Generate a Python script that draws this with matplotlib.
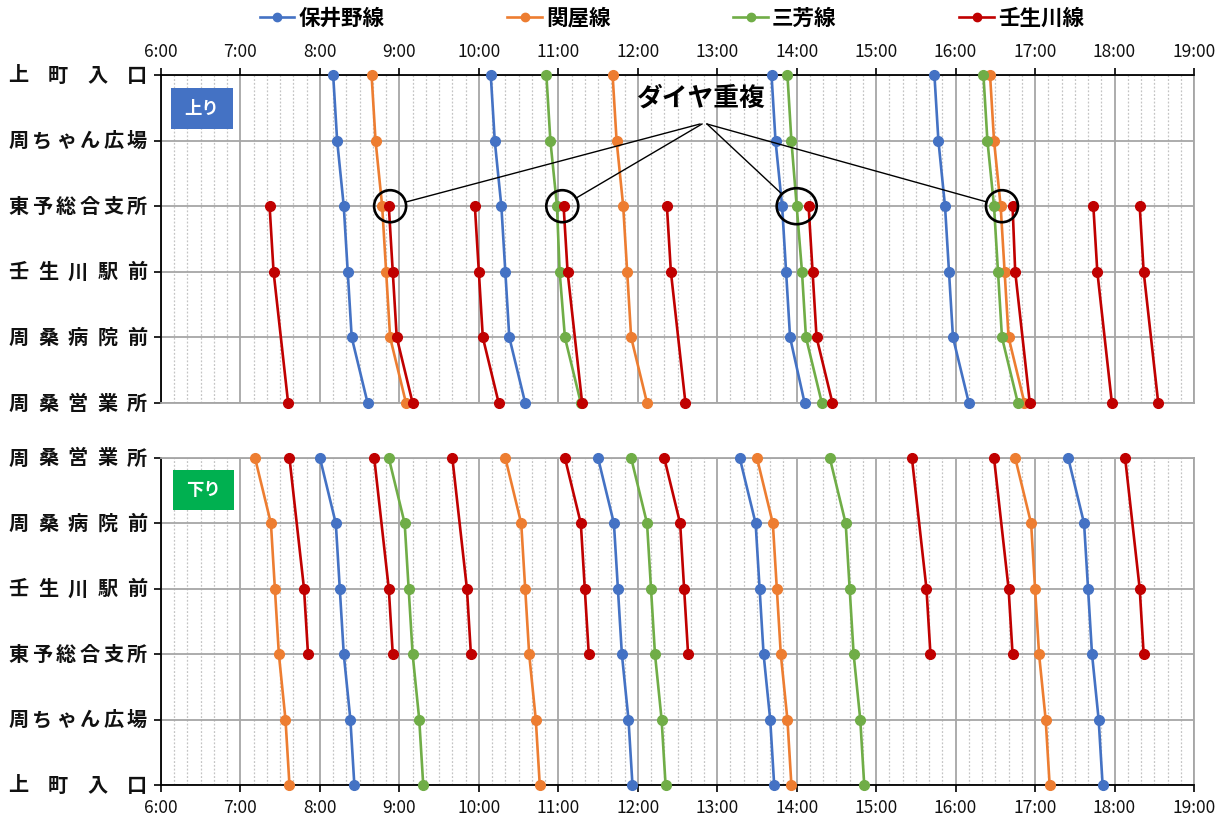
import matplotlib
matplotlib.use("Agg")
import matplotlib.pyplot as plt
import numpy as np
from matplotlib.patches import Ellipse, Rectangle
from matplotlib.lines import Line2D
import matplotlib.transforms as mtransforms

plt.rcParams['font.family'] = ['Noto Sans CJK JP', 'DejaVu Sans']

# ---------------- data ----------------
stations_up = ["上町入口", "周ちゃん広場", "東予総合支所", "壬生川駅前", "周桑病院前", "周桑営業所"]
stations_down = ["周桑営業所", "周桑病院前", "壬生川駅前", "東予総合支所", "周ちゃん広場", "上町入口"]

line_names = ["保井野線", "関屋線", "三芳線", "壬生川線"]
line_colors = ["#4472C4", "#ED7D31", "#70AD47", "#C00000"]

x_hours = list(range(6, 20))
x_tick_labels = [f"{h}:00" for h in x_hours]

# 上り (order: 上町入口 → 周桑営業所)
up_hoino = [
    ["8:10", "8:13", "8:18", "8:21", "8:24", "8:36"],
    ["10:09", "10:12", "10:17", "10:20", "10:23", "10:35"],
    ["13:41", "13:44", "13:49", "13:52", "13:55", "14:06"],
    ["15:44", "15:47", "15:52", "15:55", "15:58", "16:10"],
]
up_sekiya = [
    ["8:39", "8:42", "8:47", "8:50", "8:53", "9:05"],
    ["11:41", "11:44", "11:49", "11:52", "11:55", "12:07"],
    ["16:26", "16:29", "16:34", "16:37", "16:40", "16:52"],
]
up_miyoshi = [
    ["10:51", "10:54", "10:59", "11:01", "11:05", "11:17"],
    ["13:53", "13:56", "14:00", "14:04", "14:07", "14:19"],
    ["16:21", "16:24", "16:29", "16:32", "16:35", "16:47"],
]
up_nyugawa = [
    [None, None, "7:22", "7:25", None, "7:36"],
    [None, None, "8:52", "8:55", "8:58", "9:10"],
    [None, None, "9:57", "10:00", "10:03", "10:15"],
    [None, None, "11:04", "11:07", None, "11:18"],
    [None, None, "12:22", "12:25", None, "12:36"],
    [None, None, "14:09", "14:12", "14:15", "14:27"],
    [None, None, "16:43", "16:45", None, "16:56"],
    [None, None, "17:44", "17:47", None, "17:58"],
    [None, None, "18:19", "18:22", None, "18:33"],
]

# 下り (order: 周桑営業所 → 上町入口)
down_hoino = [
    ["8:00", "8:12", "8:15", "8:18", "8:23", "8:26"],
    ["11:30", "11:42", "11:45", "11:48", "11:53", "11:56"],
    ["13:17", "13:29", "13:32", "13:35", "13:40", "13:43"],
    ["17:25", "17:37", "17:40", "17:43", "17:48", "17:51"],
]
down_sekiya = [
    ["7:11", "7:23", "7:26", "7:29", "7:34", "7:37"],
    ["10:20", "10:32", "10:35", "10:38", "10:43", "10:46"],
    ["13:30", "13:42", "13:45", "13:48", "13:53", "13:56"],
    ["16:45", "16:57", "17:00", "17:03", "17:08", "17:11"],
]
down_miyoshi = [
    ["8:52", "9:04", "9:07", "9:10", "9:15", "9:18"],
    ["11:55", "12:07", "12:10", "12:13", "12:18", "12:21"],
    ["14:25", "14:37", "14:40", "14:43", "14:48", "14:51"],
]
down_nyugawa = [
    ["7:37", None, "7:48", "7:51", None, None],
    ["8:41", None, "8:52", "8:55", None, None],
    ["9:40", None, "9:51", "9:54", None, None],
    ["11:05", "11:17", "11:20", "11:23", None, None],
    ["12:20", "12:32", "12:35", "12:38", None, None],
    ["15:27", None, "15:38", "15:41", None, None],
    ["16:29", None, "16:40", "16:43", None, None],
    ["18:08", None, "18:19", "18:22", None, None],
]

# ダイヤ重複 annotation (circle centres at 東予総合支所, times)
overlap_times = ["8:53", "11:03", "14:00", "16:35"]
overlap_station = "東予総合支所"
annot_text = "ダイヤ重複"

# ---------------- helpers ----------------
def t2h(s):
    h, m = s.split(":")
    return int(h) + int(m) / 60.0

W, H = 1228, 817
fig = plt.figure(figsize=(W / 100, H / 100), dpi=100)

def fx(px):
    return px / W

def fy(py):
    return 1 - py / H

ax_up = fig.add_axes([fx(161), fy(403), fx(1194) - fx(161), fy(75) - fy(403)])
ax_dn = fig.add_axes([fx(161), fy(785), fx(1194) - fx(161), fy(458) - fy(785)])

grid_major = "#A6A6A6"
grid_minor = "#C4C4C4"

def style_axes(ax, top_axis):
    ax.set_xlim(6, 19)
    ax.set_ylim(5, 0)
    ax.set_xticks(x_hours)
    ax.set_xticklabels(x_tick_labels, fontsize=12.5, color="#111111")
    ax.set_xticks(np.arange(6, 19, 1 / 6), minor=True)
    ax.set_yticks(range(6))
    ax.set_yticklabels([])
    ax.grid(which="major", axis="x", color=grid_major, lw=1.3, zorder=0)
    ax.grid(which="minor", axis="x", color=grid_minor, lw=0.9, ls=(0, (1.5, 1.5)), zorder=0)
    ax.grid(which="major", axis="y", color=grid_major, lw=1.3, zorder=0)
    ax.set_axisbelow(True)
    ax.tick_params(axis="x", which="minor", length=0)
    ax.tick_params(axis="y", which="major", length=5, width=1.2, direction="out", color="black")
    if top_axis:
        ax.xaxis.tick_top()
        ax.tick_params(axis="x", which="major", length=5, width=1.2, pad=5, color="black")
        ax.spines["top"].set_color("black")
        ax.spines["bottom"].set_color(grid_major)
    else:
        ax.xaxis.tick_bottom()
        ax.tick_params(axis="x", which="major", length=5, width=1.2, pad=5, color="black")
        ax.spines["bottom"].set_color("black")
        ax.spines["top"].set_color(grid_major)
    ax.spines["left"].set_color("black")
    ax.spines["right"].set_color(grid_major)
    for s in ax.spines.values():
        s.set_linewidth(1.3)

style_axes(ax_up, True)
style_axes(ax_dn, False)

def plot_trips(ax, trips, color):
    for trip in trips:
        idx = [i for i, v in enumerate(trip) if v is not None]
        xs = [t2h(trip[i]) for i in idx]
        ax.plot(xs, idx, color=color, lw=1.9, marker="o", ms=7, zorder=3, clip_on=False)

up_sets = [up_hoino, up_sekiya, up_miyoshi, up_nyugawa]
down_sets = [down_hoino, down_sekiya, down_miyoshi, down_nyugawa]
for trips, c in zip(up_sets, line_colors):
    plot_trips(ax_up, trips, c)
for trips, c in zip(down_sets, line_colors):
    plot_trips(ax_dn, trips, c)

# station labels (distributed across fixed width)
def station_labels(ax, stations):
    tr = mtransforms.blended_transform_factory(fig.transFigure, ax.transData)
    for yi, name in enumerate(stations):
        chars = list(name)
        xs = np.linspace(18.5, 137, len(chars))
        for ch, xp in zip(chars, xs):
            fig.text(fx(xp), yi, ch, transform=tr, ha="center", va="center",
                     fontsize=14.5, fontweight="bold", color="#111111")

station_labels(ax_up, stations_up)
station_labels(ax_dn, stations_down)

# direction badges
def badge(ax, x0, x1, y0, y1, color, text):
    ax.add_patch(Rectangle((x0, y0), x1 - x0, y1 - y0, transform=ax.transAxes,
                           facecolor=color, edgecolor="none", zorder=5))
    ax.text((x0 + x1) / 2, (y0 + y1) / 2, text, transform=ax.transAxes, ha="center",
            va="center", color="white", fontsize=12.5, fontweight="bold", zorder=6)

badge(ax_up, 0.0097, 0.0697, 0.835, 0.960, "#4472C4", "上り")
badge(ax_dn, 0.0116, 0.0707, 0.841, 0.963, "#00B050", "下り")

# overlap annotation
ys = stations_up.index(overlap_station)
radii_px = [(16, 16), (16, 16), (20, 18), (16, 16)]
origins_px = [(700, 124), (702, 124), (707, 124), (707, 124)]
inv = ax_up.transData.inverted()
for t, (rx, ry), (ox, oy) in zip(overlap_times, radii_px, origins_px):
    cx, cy = ax_up.transData.transform((t2h(t), ys))
    p0 = inv.transform((cx - rx, cy + ry))
    p1 = inv.transform((cx + rx, cy - ry))
    e = Ellipse((t2h(t), ys), width=p1[0] - p0[0], height=p1[1] - p0[1],
                fill=False, edgecolor="black", lw=1.9, zorder=6)
    ax_up.add_patch(e)
    oxd, oyd = ox, H - oy
    dx, dy = oxd - cx, oyd - cy
    ang = np.arctan2(dy, dx)
    ex, ey = cx + rx * np.cos(ang), cy + ry * np.sin(ang)
    a = inv.transform((oxd, oyd))
    b = inv.transform((ex, ey))
    ax_up.plot([a[0], b[0]], [a[1], b[1]], color="black", lw=1.0, zorder=6)

fig.text(fx(700), fy(98), annot_text, ha="center", va="center", fontsize=18.5,
         fontweight="bold", color="black")

# legend
handles = [Line2D([0], [0], color=c, lw=1.9, marker="o", ms=6) for c in line_colors]
fig.legend(handles, line_names, loc="center", bbox_to_anchor=(fx(672), fy(18)), ncol=4,
           frameon=False, prop={"size": 15.5, "weight": "bold"}, handlelength=1.6,
           handletextpad=0.2, columnspacing=5.7, borderaxespad=0)

fig.savefig("out.png", dpi=100)
